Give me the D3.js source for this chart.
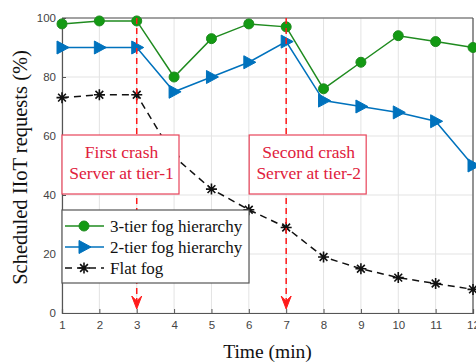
<!DOCTYPE html>
<html>
<head>
<meta charset="utf-8">
<script src="https://cdn.jsdelivr.net/npm/d3@7"></script>
<style>
  body { margin: 0; background: #fff; }
  svg { display: block; }
</style>
</head>
<body>
<div id="chart"></div>
<script>
// Data
var times = [1, 2, 3, 4, 5, 6, 7, 8, 9, 10, 11, 12];
var threeTier = [98, 99, 99, 80, 93, 98, 97, 76, 85, 94, 92, 90];
var twoTier = [90, 90, 90, 75, 80, 85, 92, 72, 70, 68, 65, 50];
var flatFog = [73, 74, 74, 53, 42, 35, 29, 19, 15, 12, 10, 8];
var yTicks = [0, 20, 40, 60, 80, 100];
var crashes = [
    {time: 3, lines: ['First crash', 'Server at tier-1']},
    {time: 7, lines: ['Second crash', 'Server at tier-2']}
];
var seriesNames = ['3-tier fog hierarchy', '2-tier fog hierarchy', 'Flat fog'];

var width = 476, height = 363;
var margin = {top: 18, right: 3, bottom: 50, left: 62};

var svg = d3.select('#chart').append('svg')
    .attr('width', width)
    .attr('height', height);

var x = d3.scaleLinear().domain([1, 12]).range([margin.left, width - margin.right]);
var y = d3.scaleLinear().domain([0, 100]).range([height - margin.bottom, margin.top]);

var green = '#1f8b1f', greenFill = '#139a13', blue = '#0072bd', red = '#ff1a1a';
var serif = '"Liberation Serif", "DejaVu Serif", serif';
var sans = '"Liberation Sans", Arial, sans-serif';

// Grid
svg.append('g').selectAll('line').data(times).enter().append('line')
    .attr('x1', d => x(d)).attr('x2', d => x(d))
    .attr('y1', y(0)).attr('y2', y(100))
    .attr('stroke', '#e3e3e3').attr('stroke-width', 1);
svg.append('g').selectAll('line').data(yTicks).enter().append('line')
    .attr('x1', x(1)).attr('x2', x(12))
    .attr('y1', d => y(d)).attr('y2', d => y(d))
    .attr('stroke', '#e3e3e3').attr('stroke-width', 1);

// Axes
var xAxis = d3.axisBottom(x).tickValues(times).tickSize(-4).tickPadding(8).tickFormat(d3.format('d'));
var yAxis = d3.axisLeft(y).tickValues(yTicks).tickSize(-4).tickPadding(6);
var gx = svg.append('g').attr('transform', 'translate(0,' + y(0) + ')').call(xAxis);
var gy = svg.append('g').attr('transform', 'translate(' + x(1) + ',0)').call(yAxis);
[gx, gy].forEach(function(g) {
    g.select('.domain').attr('stroke', '#555').attr('stroke-width', 1.2);
    g.selectAll('.tick line').attr('stroke', '#555');
    g.selectAll('.tick text').attr('fill', '#444').style('font-family', sans).style('font-size', '11.5px');
});
// top and right border
svg.append('line').attr('x1', x(1)).attr('x2', x(12)).attr('y1', y(100)).attr('y2', y(100))
    .attr('stroke', '#555').attr('stroke-width', 1.2);
svg.append('line').attr('x1', x(12)).attr('x2', x(12)).attr('y1', y(100)).attr('y2', y(0))
    .attr('stroke', '#555').attr('stroke-width', 1.2);

// Axis labels
svg.append('text')
    .attr('x', (x(1) + x(12)) / 2).attr('y', 358)
    .attr('text-anchor', 'middle')
    .style('font-family', serif).style('font-size', '19.5px').attr('fill', '#111')
    .text('Time (min)');
svg.append('text')
    .attr('transform', 'translate(27,' + (y(50) + 2) + ') rotate(-90)')
    .attr('text-anchor', 'middle')
    .style('font-family', serif).style('font-size', '20.5px').attr('fill', '#111')
    .text('Scheduled IIoT requests (%)');

// Series lines
function lineFor(values) {
    return d3.line().x((d, i) => x(times[i])).y(d => y(d))(values);
}
svg.append('path').attr('d', lineFor(threeTier)).attr('fill', 'none')
    .attr('stroke', green).attr('stroke-width', 1.5);
svg.append('path').attr('d', lineFor(twoTier)).attr('fill', 'none')
    .attr('stroke', blue).attr('stroke-width', 1.5);
svg.append('path').attr('d', lineFor(flatFog)).attr('fill', 'none')
    .attr('stroke', '#111').attr('stroke-width', 1.5).attr('stroke-dasharray', '7,5');

// Markers
function circleMarker(g, cx, cy) {
    g.append('circle').attr('cx', cx).attr('cy', cy).attr('r', 5)
        .attr('fill', greenFill).attr('stroke', green).attr('stroke-width', 1);
}
function triMarker(g, cx, cy) {
    g.append('path')
        .attr('d', 'M' + (cx - 5) + ',' + (cy - 6.5) + 'L' + (cx + 7) + ',' + cy + 'L' + (cx - 5) + ',' + (cy + 6.5) + 'Z')
        .attr('fill', blue).attr('stroke', blue).attr('stroke-width', 1);
}
function starMarker(g, cx, cy) {
    var r = 5.5, p = '';
    [0, 45, 90, 135].forEach(function(a) {
        var rad = a * Math.PI / 180;
        p += 'M' + (cx - r * Math.cos(rad)) + ',' + (cy - r * Math.sin(rad)) +
             'L' + (cx + r * Math.cos(rad)) + ',' + (cy + r * Math.sin(rad));
    });
    g.append('path').attr('d', p).attr('stroke', '#111').attr('stroke-width', 1.6).attr('fill', 'none');
}
var mk = svg.append('g');
flatFog.forEach((v, i) => starMarker(mk, x(times[i]), y(v)));
twoTier.forEach((v, i) => triMarker(mk, x(times[i]), y(v)));
threeTier.forEach((v, i) => circleMarker(mk, x(times[i]), y(v)));

// Crash markers: dashed red arrow + annotation box
var arrowTip = y(0) - 4;
crashes.forEach(function(c) {
    var cx = x(c.time);
    svg.append('line').attr('x1', cx).attr('x2', cx)
        .attr('y1', y(100)).attr('y2', arrowTip - 4)
        .attr('stroke', red).attr('stroke-width', 1.5).attr('stroke-dasharray', '6,4');
    svg.append('path')
        .attr('d', 'M' + (cx - 5) + ',' + (arrowTip - 13) + 'L' + cx + ',' + (arrowTip - 8) + 'L' + (cx + 5) + ',' + (arrowTip - 13) +
            'L' + cx + ',' + arrowTip + 'Z')
        .attr('fill', red).attr('stroke', red).attr('stroke-width', 1);

    var bw = 117;
    var bx = c.time === 3 ? x(1) : cx - 37;
    var by = 135, bh = 59;
    svg.append('rect').attr('x', bx).attr('y', by).attr('width', bw).attr('height', bh)
        .attr('fill', '#fff').attr('stroke', '#e8445a').attr('stroke-width', 1.2);
    c.lines.forEach(function(t, i) {
        svg.append('text')
            .attr('x', bx + bw / 2 + 1).attr('y', by + 23 + i * 21)
            .attr('text-anchor', 'middle')
            .style('font-family', serif).style('font-size', '17.5px').attr('fill', '#e0203c')
            .text(t);
    });
});

// Legend
var lg = svg.append('g');
lg.append('rect').attr('x', x(1)).attr('y', 210).attr('width', 187).attr('height', 73)
    .attr('fill', '#fff').attr('stroke', '#555').attr('stroke-width', 1.2);
var legendRows = [
    {name: seriesNames[0], color: green, dash: null, marker: circleMarker},
    {name: seriesNames[1], color: blue, dash: null, marker: triMarker},
    {name: seriesNames[2], color: '#111', dash: '7,5', marker: starMarker}
];
legendRows.forEach(function(r, i) {
    var ly = 226 + i * 21;
    lg.append('line').attr('x1', x(1) + 3).attr('x2', x(1) + 42).attr('y1', ly).attr('y2', ly)
        .attr('stroke', r.color).attr('stroke-width', 1.5).attr('stroke-dasharray', r.dash);
    r.marker(lg, x(1) + 22, ly);
    lg.append('text').attr('x', x(1) + 48).attr('y', ly + 6)
        .style('font-family', serif).style('font-size', '17px').attr('fill', '#111')
        .text(r.name);
});
</script>
</body>
</html>
